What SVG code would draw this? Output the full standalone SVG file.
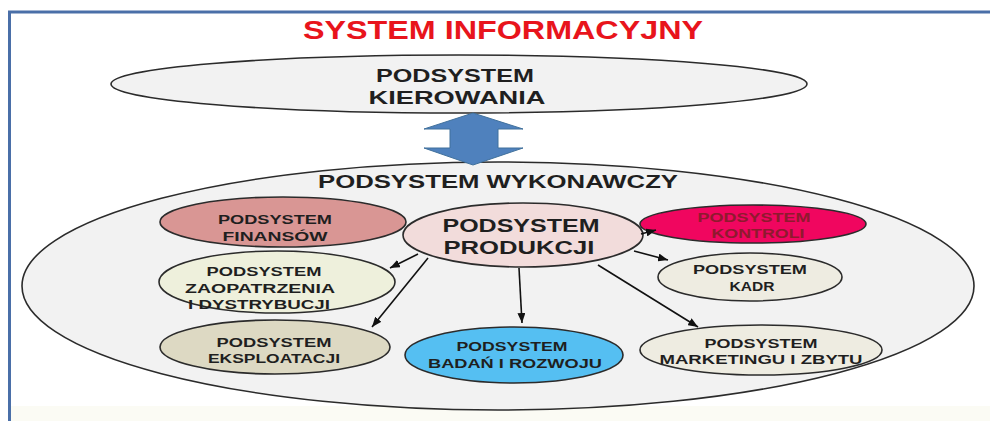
<svg xmlns="http://www.w3.org/2000/svg" width="990" height="421" viewBox="0 0 990 421">
<defs>
<marker id="ah" viewBox="0 0 10 8" refX="10" refY="4" markerWidth="10" markerHeight="8" markerUnits="userSpaceOnUse" orient="auto"><path d="M0,0 L10,4 L0,8 z" fill="#111"/></marker>
<style>
text{font-family:"Liberation Sans","Open Sans",sans-serif;font-weight:bold;text-anchor:middle;fill:#1f1f1f}
.el{stroke:#2b2b2b;stroke-width:1.6}
.s{font-size:13.5px}
.con{stroke:#111;stroke-width:1.6;fill:none;marker-end:url(#ah)}
</style>
</defs>
<rect x="0" y="0" width="990" height="421" fill="#ffffff"/>
<rect x="11" y="406" width="979" height="15" fill="#fbfbf4"/>
<path d="M9.5,421 V12 H990" fill="none" stroke="#4a6fa8" stroke-width="3"/>
<text x="503" y="39" font-size="25" style="fill:#e8141c" textLength="400" lengthAdjust="spacingAndGlyphs">SYSTEM INFORMACYJNY</text>

<g id="kierowania">
<ellipse class="el" cx="459" cy="84" rx="348" ry="29" fill="#f2f2f2"/>
<text x="455" y="82" font-size="18" textLength="158" lengthAdjust="spacingAndGlyphs">PODSYSTEM</text>
<text x="457" y="104" font-size="18" textLength="177" lengthAdjust="spacingAndGlyphs">KIEROWANIA</text>
</g>

<g id="wykonawczy">
<ellipse class="el" cx="498" cy="286" rx="476" ry="124" fill="#f2f2f2"/>
<text x="498" y="188" font-size="19" textLength="360" lengthAdjust="spacingAndGlyphs">PODSYSTEM WYKONAWCZY</text>
</g>

<g id="finansow">
<ellipse class="el" cx="283" cy="222" rx="123" ry="25" fill="#d99694"/>
<text class="s" x="275" y="224" textLength="114" lengthAdjust="spacingAndGlyphs">PODSYSTEM</text>
<text class="s" x="275" y="241" textLength="105" lengthAdjust="spacingAndGlyphs">FINANSÓW</text>
</g>

<g id="zaopatrzenia">
<ellipse class="el" cx="277" cy="282" rx="118" ry="31" fill="#eef0dc"/>
<text class="s" x="264" y="276" textLength="115" lengthAdjust="spacingAndGlyphs">PODSYSTEM</text>
<text class="s" x="260" y="293" textLength="150" lengthAdjust="spacingAndGlyphs">ZAOPATRZENIA</text>
<text class="s" x="259" y="309" textLength="142" lengthAdjust="spacingAndGlyphs">I DYSTRYBUCJI</text>
</g>

<g id="eksploatacji">
<ellipse class="el" cx="275" cy="347" rx="115" ry="27" fill="#ddd9c3"/>
<text class="s" x="274" y="347" textLength="115" lengthAdjust="spacingAndGlyphs">PODSYSTEM</text>
<text class="s" x="274" y="363" textLength="132" lengthAdjust="spacingAndGlyphs">EKSPLOATACJI</text>
</g>

<g id="produkcji">
<ellipse class="el" cx="523" cy="235" rx="120" ry="32" fill="#f2dcdb"/>
<text x="521" y="232" font-size="19" textLength="157" lengthAdjust="spacingAndGlyphs">PODSYSTEM</text>
<text x="519" y="254" font-size="19" textLength="151" lengthAdjust="spacingAndGlyphs">PRODUKCJI</text>
</g>

<g id="kontroli">
<ellipse class="el" cx="753" cy="224" rx="113" ry="19" fill="#f0065f"/>
<text class="s" x="754" y="222" style="fill:#8e1a2e" textLength="113" lengthAdjust="spacingAndGlyphs">PODSYSTEM</text>
<text class="s" x="758" y="238" style="fill:#8e1a2e" textLength="93" lengthAdjust="spacingAndGlyphs">KONTROLI</text>
</g>

<g id="kadr">
<ellipse class="el" cx="750" cy="277" rx="92" ry="24" fill="#eeece1"/>
<text class="s" x="750" y="274" textLength="114" lengthAdjust="spacingAndGlyphs">PODSYSTEM</text>
<text class="s" x="752" y="291" textLength="45" lengthAdjust="spacingAndGlyphs">KADR</text>
</g>

<g id="marketingu">
<ellipse class="el" cx="761" cy="350" rx="121" ry="25" fill="#eeece1"/>
<text class="s" x="761" y="348" textLength="113" lengthAdjust="spacingAndGlyphs">PODSYSTEM</text>
<text class="s" x="761" y="364" textLength="203" lengthAdjust="spacingAndGlyphs">MARKETINGU I ZBYTU</text>
</g>

<g id="badan">
<ellipse class="el" cx="514" cy="355" rx="109" ry="28" fill="#55bff2"/>
<text class="s" x="512" y="351" textLength="111" lengthAdjust="spacingAndGlyphs">PODSYSTEM</text>
<text class="s" x="515" y="368" textLength="174" lengthAdjust="spacingAndGlyphs">BADAŃ I ROZWOJU</text>
</g>

<g id="connectors">
<polygon points="473,113 523,129 498,129 498,148 523,148 473,165 424,148 450,148 450,129 424,129" fill="#4f81bd" stroke="#41719c" stroke-width="1"/>
<line class="con" x1="418" y1="254" x2="390" y2="268"/>
<line class="con" x1="428" y1="258" x2="372" y2="327"/>
<line class="con" x1="519" y1="268" x2="522" y2="323"/>
<line class="con" x1="598" y1="265" x2="698" y2="327"/>
<line class="con" x1="634" y1="251" x2="668" y2="260"/>
<line class="con" x1="641" y1="234" x2="656" y2="230"/>
</g>
</svg>
